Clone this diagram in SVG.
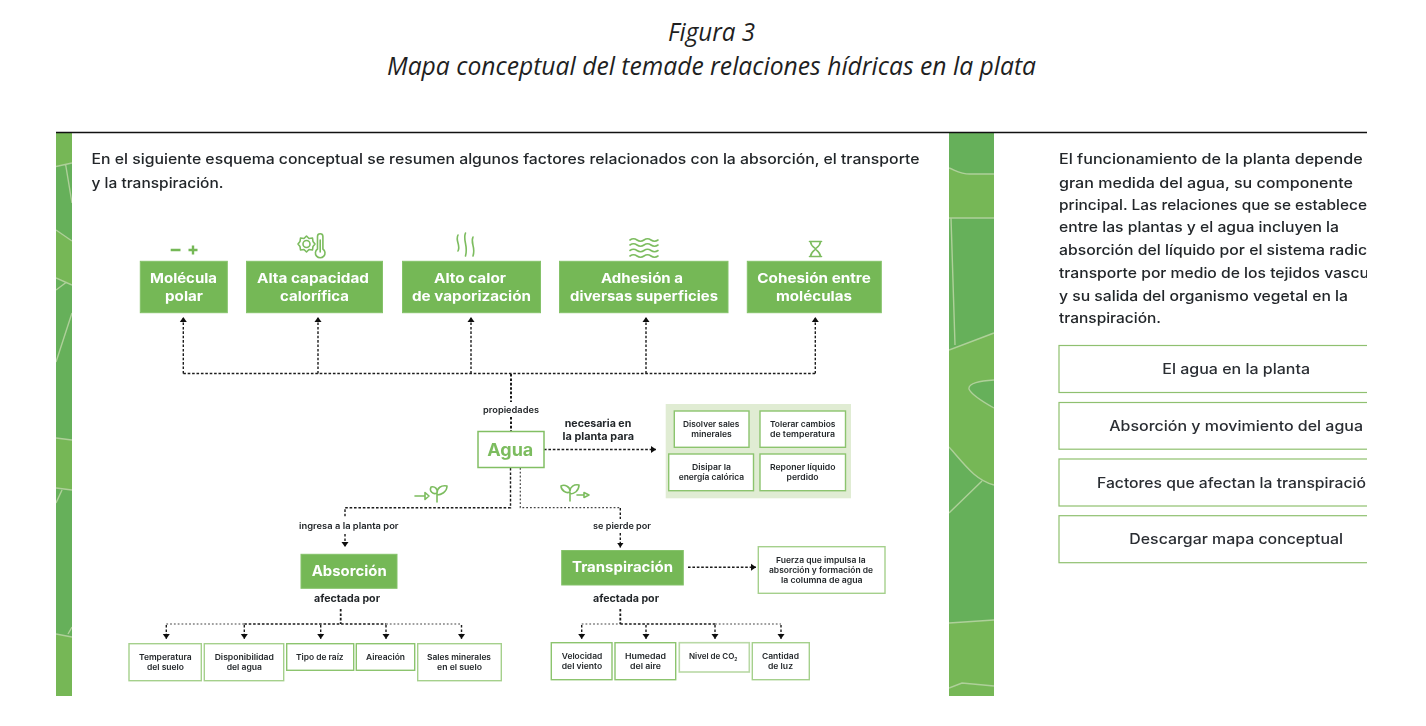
<svg xmlns="http://www.w3.org/2000/svg" width="1426" height="726" viewBox="0 0 1426 726">
<style>
text{font-family:"Inter","Liberation Sans",sans-serif;fill:#23272a}
.title{font-family:"Open Sans","Liberation Sans",sans-serif;font-style:italic;font-size:26px;fill:#1f1f1f}
.body{font-size:14px;font-weight:500}
.btn{font-size:14px;font-weight:500;fill:#2a2d33}
.head{font-size:13.5px;font-weight:700;fill:#fff}
.big{font-size:14.5px;font-weight:700;fill:#fff}
.lab{font-size:9px;font-weight:600}
.lab2{font-size:10px;font-weight:700}
.sm{font-size:8px;font-weight:600}
.m{text-anchor:middle}
.gbox{fill:#74b857;stroke:#85c26a;stroke-width:1}
.wbox{fill:#fff;stroke:#8cc46e;stroke-width:1.4}
.wbox2{fill:#fff;stroke:#b9d9a6;stroke-width:1.6}
.btnbox{fill:#fff;stroke:#8fc06f;stroke-width:1.2}
.con{fill:none;stroke:#1d1d1d;stroke-width:1.4;stroke-dasharray:2.6 1.8}
.con2{fill:none;stroke:#444;stroke-width:1.2;stroke-dasharray:1.8 2}
.end{marker-end:url(#ah)}
.ic{fill:none;stroke:#7cbc5e;stroke-width:1.6;stroke-linecap:round;stroke-linejoin:round}
.vein{fill:none;stroke:#afd09a;stroke-width:1.4}
</style>
<defs>
<marker id="ah" markerUnits="userSpaceOnUse" markerWidth="8" markerHeight="8" refX="5" refY="4" orient="auto"><path d="M0 .5L5 4L0 7.5z" fill="#111"/></marker>
<clipPath id="clipR"><rect x="1000" y="133" width="367" height="563"/></clipPath>
<clipPath id="clipL"><rect x="56" y="133" width="16" height="563"/></clipPath>
<clipPath id="clipS"><rect x="949" y="133" width="45" height="563"/></clipPath>
<filter id="soft" filterUnits="userSpaceOnUse" x="0" y="130" width="1426" height="570"><feGaussianBlur stdDeviation="0.5"/></filter>
</defs>
<rect width="1426" height="726" fill="#fff"/>
<g id="title">
<text class="title m" x="711.500" y="41" textLength="87" lengthAdjust="spacingAndGlyphs">Figura 3</text>
<text class="title m" x="711.500" y="74.500" textLength="649" lengthAdjust="spacingAndGlyphs">Mapa conceptual del temade relaciones hídricas en la plata</text>
</g>
<g filter="url(#soft)">
<g id="strip-left" clip-path="url(#clipL)">
<rect x="56" y="133" width="16" height="563" fill="#66b05a"/>
<path fill="#76b757" d="M56 133H72V163L56 166zM56 230L72 241V285L56 278zM56 438L72 440V490L56 488zM56 634L72 637V696H56z"/>
<path class="vein" d="M56 166.500L72 163M65.700 165L72 203M56 230L72 241M56 278L72 285M56 290L66.700 282M72 313L56 362M56 438L72 440M56 488L72 490M56 503L62 490M56 634L72 637M68 634L72 627"/>
</g>
<g id="strip-right" clip-path="url(#clipS)">
<rect x="949" y="133" width="45" height="563" fill="#66b05a"/>
<path fill="#76b757" d="M949 168C955 170 960 174 970 174L994 174V218L949 218V350L994 333V485C975 480 965 465 949 447zM949 623L994 620V696H949z"/>
<path fill="#66b05a" d="M994 380C980 381 968 383 969 389C971 394 985 403 994 408z"/>
<path class="vein" d="M949 168C955 170 960 174 970 174L994 174M949 218H994M951 218L955 345M949 350L994 333M994 380C980 381 968 383 969 389C971 394 985 403 994 408M949 447C965 465 975 480 994 485M982 481L949 513M949 623L994 620M949 688L962 683L994 686"/>
</g>
<g id="intro">
<text class="body" x="91.500" y="163.500" textLength="828" lengthAdjust="spacingAndGlyphs">En el siguiente esquema conceptual se resumen algunos factores relacionados con la absorción, el transporte</text>
<text class="body" x="91.500" y="187.500" textLength="132" lengthAdjust="spacingAndGlyphs">y la transpiración.</text>
</g>
<g id="connectors">
<path class="con" d="M183.300 373.500H815.300"/>
<path class="con end" d="M183.300 373.500V317"/>
<path class="con end" d="M318 373.500V317"/>
<path class="con end" d="M471 373.500V317"/>
<path class="con end" d="M646 373.500V317"/>
<path class="con end" d="M815.300 373.500V317"/>
<path class="con" style="stroke-width:2" d="M511 374V402M511 417V431"/>
<path class="con end" d="M544 449.500H656"/>
<path class="con" d="M510.500 468V507.700H345V518"/>
<path class="con2" d="M520.300 468V507.700H620.300"/>
<path class="con" d="M620.300 508V519"/>
<path class="con end" d="M345 534V547"/>
<path class="con end" d="M620.300 533V547.500"/>
<path class="con end" d="M688 567.300H756"/>
<path class="con" style="stroke-width:1.800" d="M340.700 609V624M620.300 609V624"/>
<path class="con" d="M244.300 624H386"/>
<path class="con2" d="M166.300 624H244.300M386 624H461.500"/>
<path class="con end" d="M166.300 625V639"/>
<path class="con end" d="M244.300 625V639"/>
<path class="con end" d="M320.700 625V639"/>
<path class="con end" d="M386 625V639"/>
<path class="con end" d="M461.500 625V639"/>
<path class="con" d="M620.300 624H715"/>
<path class="con2" d="M581.700 624H620.300M715 624H781"/>
<path class="con end" d="M581.700 625V639"/>
<path class="con end" d="M646 625V639"/>
<path class="con end" d="M715 625V639"/>
<path class="con end" d="M781 625V639"/>
</g>
<g id="icon-polar"><path d="M170.700 250H180.500M188.500 250H197.500M193 245.500V254.500" fill="none" stroke="#74b857" stroke-width="2.400"/></g>
<g id="icon-temp" class="ic">
<circle cx="306.500" cy="244" r="3.500"/>
<path d="M306.500 236L309 238.500L312.500 238L313 241.500L315 244L313 246.500L312.500 250L309 249.500L306.500 252L304 249.500L300.500 250L300 246.500L298 244L300 241.500L300.500 238L304 238.500z"/>
<path d="M317.500 236.500a2.700 2.700 0 0 1 5.400 0V249a4.800 4.800 0 1 1 -5.400 0z"/>
<path d="M320.200 240V252"/>
</g>
<g id="icon-heat" class="ic">
<path d="M458 235C455 241 461 245 458 251M465.500 233C462.500 240 468.500 246 465.500 256M473 237C470 243 476 247 473 256"/>
</g>
<g id="icon-waves" class="ic">
<path d="M630 240q3.500 -2.500 7 0t7 0t7 0t7 0M630 245q3.500 -2.500 7 0t7 0t7 0t7 0M630 250.500q3.500 -2.500 7 0t7 0t7 0t7 0M630 256q3.500 -2.500 7 0t7 0t7 0t7 0"/>
</g>
<g id="icon-glass" class="ic"><path d="M809.500 241.500H821.500M809.500 256.500H821.500M810.500 241.500C811 247 815.500 248 815.500 249C815.500 250 811 251 810.500 256.500M820.500 241.500C820 247 815.500 248 815.500 249C815.500 250 820 251 820.500 256.500"/></g>
<g id="icon-sprout-in" class="ic"><path d="M415 496H425M425 492.500L429 496L425 499.500zM437 502V493C433 495 429 491 431 487C435 486 438 489 437 493C437 488 441 485 447 486C447 492 441 495 437 495"/></g>
<g id="icon-sprout-out" class="ic"><path d="M570 501V492C566 494 561 490 561 486C565 484 570 487 570 491C570 487 574 484 579 485C579 491 574 494 570 494M577 495H584M584 492.500L589 495L584 497.500z"/></g>
<g id="n-molecula"><rect class="gbox" x="140.300" y="261.300" width="87" height="51.400"/><text class="head m" x="183.500" y="283.300" textLength="67" lengthAdjust="spacingAndGlyphs">Molécula</text><text class="head m" x="184" y="300.700" textLength="38" lengthAdjust="spacingAndGlyphs">polar</text></g>
<g id="n-capacidad"><rect class="gbox" x="246.500" y="261.300" width="136" height="51.400"/><text class="head m" x="313" y="283.300" textLength="112" lengthAdjust="spacingAndGlyphs">Alta capacidad</text><text class="head m" x="314.500" y="300.700" textLength="69" lengthAdjust="spacingAndGlyphs">calorífica</text></g>
<g id="n-calor"><rect class="gbox" x="402.500" y="261.300" width="138" height="51.400"/><text class="head m" x="470" y="283.300" textLength="72" lengthAdjust="spacingAndGlyphs">Alto calor</text><text class="head m" x="471.500" y="300.700" textLength="119" lengthAdjust="spacingAndGlyphs">de vaporización</text></g>
<g id="n-adhesion"><rect class="gbox" x="559.500" y="261.300" width="168.500" height="51.400"/><text class="head m" x="642" y="283.300" textLength="82" lengthAdjust="spacingAndGlyphs">Adhesión a</text><text class="head m" x="644" y="300.700" textLength="148" lengthAdjust="spacingAndGlyphs">diversas superficies</text></g>
<g id="n-cohesion"><rect class="gbox" x="747.300" y="261.300" width="134" height="51.400"/><text class="head m" x="814" y="283.300" textLength="113.500" lengthAdjust="spacingAndGlyphs">Cohesión entre</text><text class="head m" x="814" y="300.700" textLength="76" lengthAdjust="spacingAndGlyphs">moléculas</text></g>
<g id="labels">
<text class="lab m" x="511" y="413" textLength="56" lengthAdjust="spacingAndGlyphs">propiedades</text>
<text class="lab2 m" x="598" y="426.700" textLength="66.500" lengthAdjust="spacingAndGlyphs">necesaria en</text>
<text class="lab2 m" x="598.300" y="439.500" textLength="71.500" lengthAdjust="spacingAndGlyphs">la planta para</text>
<text class="lab m" x="348.800" y="529.300" textLength="99.500" lengthAdjust="spacingAndGlyphs">ingresa a la planta por</text>
<text class="lab m" x="622" y="529.300" textLength="58" lengthAdjust="spacingAndGlyphs">se pierde por</text>
<text class="lab2 m" x="347" y="602" textLength="66" lengthAdjust="spacingAndGlyphs">afectada por</text>
<text class="lab2 m" x="626" y="602" textLength="66" lengthAdjust="spacingAndGlyphs">afectada por</text>
</g>
<g id="n-agua"><rect x="478" y="431.500" width="66" height="36" fill="#fff" stroke="#82bf64" stroke-width="1.500"/><text x="510.300" y="455.700" class="m" style="font-size:17px;font-weight:700;fill:#7cbc5e" textLength="46" lengthAdjust="spacingAndGlyphs">Agua</text></g>
<g id="panel-necesaria">
<rect x="665.700" y="404" width="185.300" height="94.300" fill="#e0ecd3"/>
<g id="n-disolver"><rect class="wbox" x="674.300" y="411" width="74.700" height="36.300"/><text class="sm m" x="711.200" y="427" textLength="56.500" lengthAdjust="spacingAndGlyphs">Disolver sales</text><text class="sm m" x="711.500" y="437" textLength="40.500" lengthAdjust="spacingAndGlyphs">minerales</text></g>
<g id="n-tolerar"><rect class="wbox" x="760" y="411" width="85.500" height="36.300"/><text class="sm m" x="802.700" y="427" textLength="65.500" lengthAdjust="spacingAndGlyphs">Tolerar cambios</text><text class="sm m" x="802.500" y="437" textLength="65" lengthAdjust="spacingAndGlyphs">de temperatura</text></g>
<g id="n-disipar"><rect class="wbox" x="668.700" y="454" width="84.800" height="36.700"/><text class="sm m" x="711.500" y="470" textLength="39" lengthAdjust="spacingAndGlyphs">Disipar la</text><text class="sm m" x="711.400" y="480" textLength="65.500" lengthAdjust="spacingAndGlyphs">energía calórica</text></g>
<g id="n-reponer"><rect class="wbox" x="760" y="454" width="85.500" height="36.700"/><text class="sm m" x="802.700" y="470" textLength="65.500" lengthAdjust="spacingAndGlyphs">Reponer líquido</text><text class="sm m" x="802.600" y="480" textLength="32" lengthAdjust="spacingAndGlyphs">perdido</text></g>
</g>
<g id="n-absorcion"><rect class="gbox" x="301" y="554.300" width="96" height="34"/><text class="big m" x="349.200" y="575.700" textLength="75" lengthAdjust="spacingAndGlyphs">Absorción</text></g>
<g id="n-transpiracion"><rect class="gbox" x="561.700" y="550.500" width="121.600" height="34.500"/><text class="big m" x="622.500" y="572.300" textLength="101" lengthAdjust="spacingAndGlyphs">Transpiración</text></g>
<g id="n-fuerza"><rect class="wbox" x="758.300" y="546.700" width="126.700" height="46.600" style="stroke:#a5d08c"/><text class="sm m" x="820.800" y="562.700" textLength="89.700" lengthAdjust="spacingAndGlyphs">Fuerza que impulsa la</text><text class="sm m" x="821" y="572.700" textLength="104" lengthAdjust="spacingAndGlyphs">absorción y formación de</text><text class="sm m" x="821.800" y="582.700" textLength="81.700" lengthAdjust="spacingAndGlyphs">la columna de agua</text></g>
<g id="n-temperatura"><rect class="wbox" x="129" y="643.700" width="72.300" height="37" style="stroke:#a5d08c"/><text class="sm m" x="165.300" y="660" textLength="52.700" lengthAdjust="spacingAndGlyphs">Temperatura</text><text class="sm m" x="165.500" y="670" textLength="37" lengthAdjust="spacingAndGlyphs">del suelo</text></g>
<g id="n-disponibilidad"><rect class="wbox" x="204.300" y="643.700" width="79.400" height="37" style="stroke:#a5d08c"/><text class="sm m" x="244.300" y="660" textLength="59.300" lengthAdjust="spacingAndGlyphs">Disponibilidad</text><text class="sm m" x="244.300" y="670" textLength="35.300" lengthAdjust="spacingAndGlyphs">del agua</text></g>
<g id="n-raiz"><rect class="wbox" x="286.700" y="643.700" width="67" height="26.600"/><text class="sm m" x="319.800" y="660" textLength="47.700" lengthAdjust="spacingAndGlyphs">Tipo de raíz</text></g>
<g id="n-aireacion"><rect class="wbox" x="356.300" y="643.700" width="58.400" height="26.600"/><text class="sm m" x="385.500" y="660" textLength="39" lengthAdjust="spacingAndGlyphs">Aireación</text></g>
<g id="n-sales"><rect class="wbox" x="417.700" y="643.700" width="83.600" height="37" style="stroke:#a5d08c"/><text class="sm m" x="459" y="660" textLength="64" lengthAdjust="spacingAndGlyphs">Sales minerales</text><text class="sm m" x="459.500" y="670" textLength="45" lengthAdjust="spacingAndGlyphs">en el suelo</text></g>
<g id="n-velocidad"><rect class="wbox" x="551.300" y="642.700" width="60.700" height="37"/><text class="sm m" x="582" y="659.300" textLength="40.500" lengthAdjust="spacingAndGlyphs">Velocidad</text><text class="sm m" x="582" y="669.300" textLength="40.500" lengthAdjust="spacingAndGlyphs">del viento</text></g>
<g id="n-humedad"><rect class="wbox" x="615" y="642.700" width="60.700" height="37"/><text class="sm m" x="645.500" y="659.300" textLength="41" lengthAdjust="spacingAndGlyphs">Humedad</text><text class="sm m" x="645.500" y="669.300" textLength="31" lengthAdjust="spacingAndGlyphs">del aire</text></g>
<g id="n-co2"><rect class="wbox2" x="679.300" y="642.700" width="70" height="29.300"/><text class="sm" x="689" y="659.300">Nivel de CO<tspan dy="2" style="font-size:5px">2</tspan></text></g>
<g id="n-luz"><rect class="wbox" x="752.300" y="642.700" width="57" height="37" style="stroke:#a5d08c"/><text class="sm m" x="780.500" y="659.300" textLength="37" lengthAdjust="spacingAndGlyphs">Cantidad</text><text class="sm m" x="780.500" y="669.300" textLength="25" lengthAdjust="spacingAndGlyphs">de luz</text></g>
<g id="side-text" clip-path="url(#clipR)">
<text class="body" x="1059" y="164" textLength="303.700" lengthAdjust="spacingAndGlyphs">El funcionamiento de la planta depende</text>
<text class="body" x="1059" y="187.700" textLength="294" lengthAdjust="spacingAndGlyphs">gran medida del agua, su componente</text>
<text class="body" x="1059" y="210" textLength="308" lengthAdjust="spacingAndGlyphs">principal. Las relaciones que se establece</text>
<text class="body" x="1059" y="232.300" textLength="280" lengthAdjust="spacingAndGlyphs">entre las plantas y el agua incluyen la</text>
<text class="body" x="1059" y="255" textLength="308" lengthAdjust="spacingAndGlyphs">absorción del líquido por el sistema radic</text>
<text class="body" x="1059" y="277.700" textLength="310" lengthAdjust="spacingAndGlyphs">transporte por medio de los tejidos vascu</text>
<text class="body" x="1059" y="300.700" textLength="289" lengthAdjust="spacingAndGlyphs">y su salida del organismo vegetal en la</text>
<text class="body" x="1059" y="323" textLength="102" lengthAdjust="spacingAndGlyphs">transpiración.</text>
</g>
<g clip-path="url(#clipR)">
<g id="btn-agua"><rect class="btnbox" x="1059" y="345.500" width="330" height="47"/><text class="btn" x="1162.300" y="374.300" textLength="147.700" lengthAdjust="spacingAndGlyphs">El agua en la planta</text></g>
<g id="btn-absorcion"><rect class="btnbox" x="1059" y="402.500" width="330" height="46.700"/><text class="btn" x="1109.300" y="431" textLength="253.700" lengthAdjust="spacingAndGlyphs">Absorción y movimiento del agua</text></g>
<g id="btn-factores"><rect class="btnbox" x="1059" y="459" width="330" height="47"/><text class="btn" x="1097" y="487.700" textLength="269" lengthAdjust="spacingAndGlyphs">Factores que afectan la transpiració</text></g>
<g id="btn-descargar"><rect class="btnbox" x="1059" y="515.700" width="330" height="47"/><text class="btn" x="1129.300" y="544.300" textLength="213.700" lengthAdjust="spacingAndGlyphs">Descargar mapa conceptual</text></g>
</g>
</g>
<path id="rule" d="M56 132.500H1367" stroke="#111" stroke-width="1.300"/>
</svg>
